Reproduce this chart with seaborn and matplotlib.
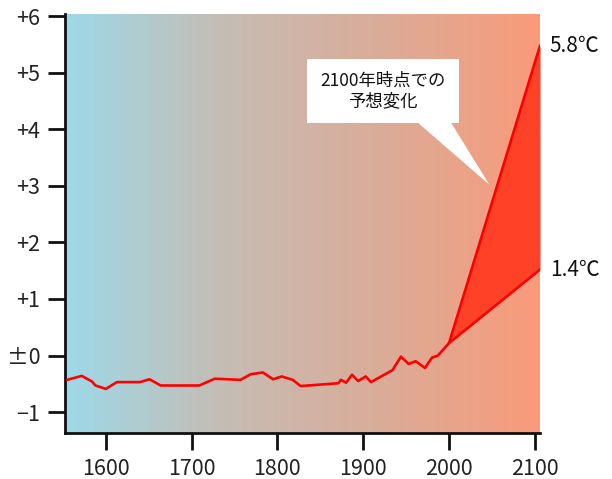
import numpy as np
import pandas as pd
import seaborn as sns
import matplotlib.pyplot as plt
from matplotlib.colors import LinearSegmentedColormap

# 観測された気温変化 (年, ℃)
years = [1555, 1572, 1584, 1588, 1600, 1613, 1640, 1651, 1664, 1709,
         1727, 1757, 1769, 1783, 1795, 1805, 1818, 1827, 1871, 1874,
         1880, 1887, 1894, 1903, 1909, 1934, 1944, 1953, 1961, 1972,
         1980, 1987, 2000]
temps = [-0.43, -0.36, -0.46, -0.53, -0.59, -0.47, -0.47, -0.42, -0.53, -0.53,
         -0.41, -0.43, -0.33, -0.30, -0.42, -0.37, -0.43, -0.54, -0.49, -0.43,
         -0.48, -0.34, -0.45, -0.37, -0.47, -0.26, -0.02, -0.15, -0.10, -0.22,
         -0.04, 0.00, 0.22]

# 2100年時点での予想幅
proj_years = [2000, 2106]
proj_high = [0.22, 5.48]
proj_low = [0.22, 1.52]
proj_labels = ['5.8℃', '1.4℃']

xticks = [1600, 1700, 1800, 1900, 2000, 2100]
yticks = [-1, 0, 1, 2, 3, 4, 5, 6]
ytick_labels = ['−1', '±0', '+1', '+2', '+3', '+4', '+5', '+6']

sns.set_theme(style='ticks')
plt.rcParams['font.family'] = ['Noto Sans CJK JP', 'DejaVu Sans']

fig = plt.figure(figsize=(6.12, 4.79), dpi=100)
ax = fig.add_axes([65 / 612, 46 / 479, 475 / 612, 419 / 479])

xmin, xmax = 1552.5, 2106
ymin, ymax = -1.37, 6.04

# 背景のグラデーション
cmap = LinearSegmentedColormap.from_list(
    'bg', ['#9dd9e8', '#c6bcb4', '#daac98', '#fa9a7a'])
grad = np.linspace(0, 1, 256).reshape(1, -1)
ax.imshow(grad, cmap=cmap, aspect='auto', extent=[xmin, xmax, ymin, ymax],
          zorder=0, interpolation='bicubic')

df = pd.DataFrame({'year': years, 'temp': temps})
sns.lineplot(data=df, x='year', y='temp', color='#ff0000', lw=1.9,
             ax=ax, zorder=3)

ax.fill_between(proj_years, proj_low, proj_high, color='#ff4128',
                lw=0, zorder=2)
ax.plot(proj_years, proj_high, color='#ff0000', lw=1.9, zorder=3)
ax.plot(proj_years, proj_low, color='#ff0000', lw=1.9, zorder=3)

for yv, lab in zip([proj_high[-1], proj_low[-1]], proj_labels):
    ax.annotate(lab, xy=(proj_years[-1], yv), xytext=(7, 0),
                textcoords='offset points', ha='left', va='center',
                fontsize=15, color='#111111', annotation_clip=False)

# 吹き出し
ax.annotate('2100年時点での\n予想変化', xy=(2047, 3.02), xytext=(1923, 4.68),
            ha='center', va='center', fontsize=12.5, color='#111111',
            linespacing=1.15,
            bbox=dict(boxstyle='square,pad=0.75', fc='white', ec='none'),
            arrowprops=dict(arrowstyle='wedge,tail_width=1.9', fc='white',
                            ec='none', relpos=(0.79, 0.2), patchA=None,
                            shrinkA=0, shrinkB=0),
            zorder=4)

ax.set_xlim(xmin, xmax)
ax.set_ylim(ymin, ymax)
ax.set_xticks(xticks)
ax.set_yticks(yticks)
ax.set_yticklabels(ytick_labels)
ax.set_xlabel('')
ax.set_ylabel('')
ax.tick_params(axis='both', length=12, width=2, color='#111111',
               labelsize=15.5, labelcolor='#222222', pad=6)

sns.despine(ax=ax, top=True, right=True)
for side in ['left', 'bottom']:
    ax.spines[side].set_linewidth(2)
    ax.spines[side].set_color('#111111')

fig.savefig('out.png', dpi=100)
